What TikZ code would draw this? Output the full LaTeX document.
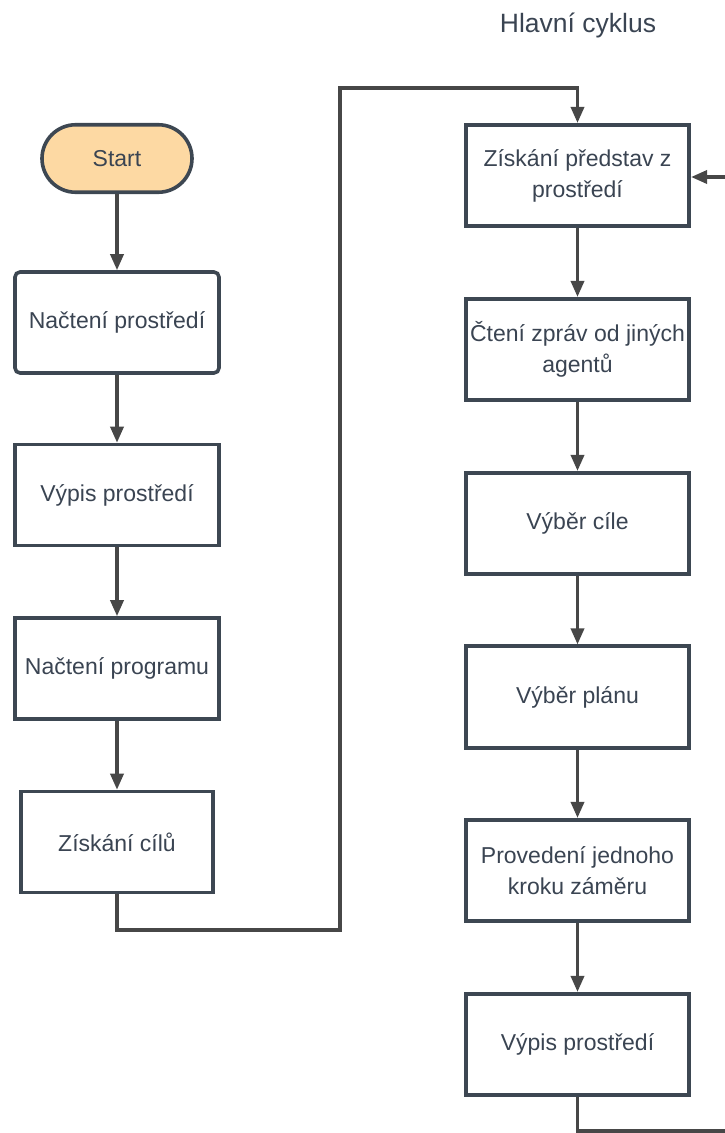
\documentclass[tikz,border=0pt]{standalone}
\usepackage{fontspec}
\setmainfont{Liberation Sans}
\usetikzlibrary{arrows.meta}
\definecolor{boxline}{HTML}{3D4752}
\definecolor{conn}{HTML}{474747}
\definecolor{txt}{HTML}{3A4452}
\definecolor{startfill}{HTML}{FDD9A3}
\tikzset{
  base/.style={draw=boxline, line width=3.6pt, fill=white, text=txt, align=center,
    font=\fontsize{23}{31}\selectfont, inner sep=0pt},
  stepbox/.style={base, minimum width=204pt, minimum height=101pt},
  rbox/.style={base, minimum width=223.5pt, minimum height=101.5pt},
  startbox/.style={base, fill=startfill, minimum width=150pt, minimum height=67.5pt, rounded corners=33.7pt},
  conn/.style={draw=conn, line width=3.4pt, -{Triangle[width=13pt,length=16pt]}},
  connn/.style={draw=conn, line width=3.4pt},
}
\begin{document}
\begin{tikzpicture}[x=1pt,y=-1pt]
\useasboundingbox (0,0) rectangle (725,1133);
\node[text=txt, font=\fontsize{26.5}{32}\selectfont] (title) at (578,25) {Hlavní cyklus};

\node[startbox] (start) at (117,158.5) {Start};
\node[stepbox, rounded corners=5pt] (n1) at (117,322.5) {Načtení prostředí};
\node[stepbox] (n2) at (117,495) {Výpis prostředí};
\node[stepbox] (n3) at (117,668.5) {Načtení programu};
\node[stepbox, minimum width=192.5pt] (n4) at (117,842) {Získání cílů};

\node[rbox] (r1) at (577.5,175.5) {Získání představ z\\prostředí};
\node[rbox] (r2) at (577.5,349.5) {Čtení zpráv od jiných\\agentů};
\node[rbox] (r3) at (577.5,523.5) {Výběr cíle};
\node[rbox] (r4) at (577.5,697) {Výběr plánu};
\node[rbox] (r5) at (577.5,870.5) {Provedení jednoho\\kroku záměru};
\node[rbox] (r6) at (577.5,1044.5) {Výpis prostředí};

\coordinate (a1) at (117,930);
\coordinate (a2) at (340,930);
\coordinate (a3) at (340,88);
\coordinate (a4) at (577.5,88);
\coordinate (b1) at (577.5,1131);
\coordinate (b2) at (730,1131);
\coordinate (c1) at (730,177);

\draw[conn] (start) -- (n1);
\draw[conn] (n1) -- (n2);
\draw[conn] (n2) -- (n3);
\draw[conn] (n3) -- (n4);
\draw[conn] (n4.south) -- (a1) -- (a2) -- (a3) -- (a4) -- (r1.north);
\draw[conn] (r1) -- (r2);
\draw[conn] (r2) -- (r3);
\draw[conn] (r3) -- (r4);
\draw[conn] (r4) -- (r5);
\draw[conn] (r5) -- (r6);
\draw[connn] (r6.south) -- (b1) -- (b2);
\draw[conn] (c1) -- (r1.east |- c1);
\end{tikzpicture}
\end{document}
